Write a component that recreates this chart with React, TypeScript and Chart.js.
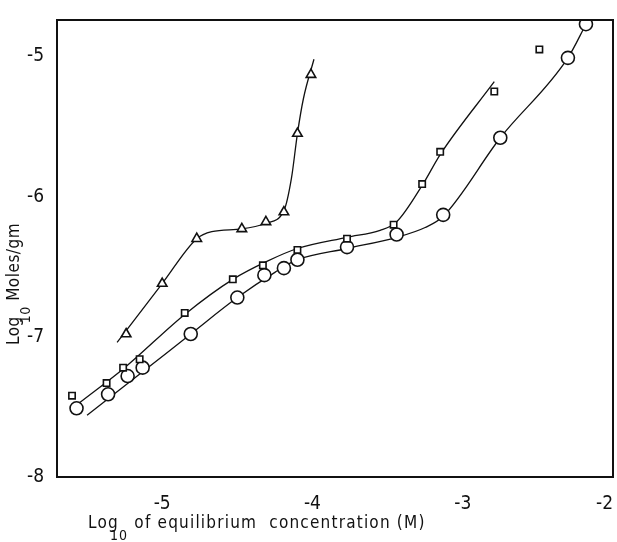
import React, { useEffect, useRef } from "react";
import { Chart, registerables } from "chart.js";

Chart.register(...registerables);

// ---- data ----
const triX = [-5.24, -5.0, -4.77, -4.47, -4.31, -4.19, -4.1, -4.01];
const triY = [-6.98, -6.62, -6.3, -6.23, -6.18, -6.11, -5.55, -5.13];

const sqX = [-5.6, -5.37, -5.26, -5.15, -4.85, -4.53, -4.33, -4.1, -3.77, -3.46, -3.27, -3.15, -2.79, -2.49];
const sqY = [-7.42, -7.33, -7.22, -7.16, -6.83, -6.59, -6.49, -6.38, -6.3, -6.2, -5.91, -5.68, -5.25, -4.95];

const cirX = [-5.57, -5.36, -5.23, -5.13, -4.81, -4.5, -4.32, -4.19, -4.1, -3.77, -3.44, -3.13, -2.75, -2.3, -2.18];
const cirY = [-7.51, -7.41, -7.28, -7.22, -6.98, -6.72, -6.56, -6.51, -6.45, -6.36, -6.27, -6.13, -5.58, -5.01, -4.77];

// fitted curves (hand-drawn in the reference)
const triCurveX = [-5.3, -5.0, -4.77, -4.67, -4.47, -4.31, -4.19, -4.14, -4.1, -4.06, -3.99];
const triCurveY = [-7.04, -6.62, -6.3, -6.25, -6.23, -6.19, -6.1, -5.87, -5.55, -5.3, -5.02];

const sqCurveX = [-5.55, -5.25, -4.85, -4.53, -4.3, -4.1, -3.77, -3.55, -3.44, -3.27, -3.15, -2.79];
const sqCurveY = [-7.47, -7.22, -6.84, -6.59, -6.46, -6.37, -6.29, -6.24, -6.18, -5.92, -5.7, -5.18];

const cirCurveX = [-5.5, -5.13, -4.81, -4.5, -4.25, -4.1, -3.77, -3.44, -3.25, -3.13, -2.75, -2.3, -2.18];
const cirCurveY = [-7.56, -7.25, -6.98, -6.72, -6.54, -6.45, -6.37, -6.29, -6.22, -6.14, -5.58, -5.01, -4.77];

const xTicks = [-5, -4, -3, -2];
const xTickLabels = ["-5", "-4", "-3", "-2"];
const yTicks = [-8, -7, -6, -5];
const yTickLabels = ["-8", "-7", "-6", "-5"];

const xTitleMain = "Log";
const xTitleSub = "10";
const xTitleRest = " of equilibrium  concentration (M)";
const yTitleMain = "Log";
const yTitleSub = "10";
const yTitleRest = " Moles/gm";

const FONT = '"DejaVu Sans Condensed", "DejaVu Sans", sans-serif';

const pts = (xs: number[], ys: number[]) => xs.map((x, i) => ({ x, y: ys[i] }));

const framePlugin = {
  id: "frameAndTitles",
  beforeDraw(chart: any) {
    // keep the last x tick label inside the canvas (right-aligned at the edge)
    const xs = chart.scales.x;
    if (xs && xs.getLabelItems) {
      const items = xs.getLabelItems();
      const last = items[items.length - 1];
      if (last && last.options) last.options.textAlign = "right";
    }
  },
  afterDraw(chart: any) {
    const { ctx, chartArea } = chart;
    ctx.save();
    ctx.strokeStyle = "#111";
    ctx.lineWidth = 2;
    ctx.strokeRect(chartArea.left, chartArea.top, chartArea.right - chartArea.left, chartArea.bottom - chartArea.top);

    ctx.fillStyle = "#111";
    ctx.textBaseline = "alphabetic";
    ctx.textAlign = "left";
    // x title
    (ctx as any).letterSpacing = "1.2px";
    let x = 88;
    const yb = 528;
    ctx.font = `17px ${FONT}`;
    ctx.fillText(xTitleMain, x, yb);
    x += ctx.measureText(xTitleMain).width - 9;
    ctx.font = `14px ${FONT}`;
    ctx.fillText(xTitleSub, x, yb + 12);
    x += ctx.measureText(xTitleSub).width;
    ctx.font = `17px ${FONT}`;
    ctx.fillText(xTitleRest, x, yb);

    // y title (rotated)
    (ctx as any).letterSpacing = "0.5px";
    ctx.translate(19, 345);
    ctx.rotate(-Math.PI / 2);
    let t = 0;
    ctx.font = `17px ${FONT}`;
    ctx.fillText(yTitleMain, t, 0);
    t += ctx.measureText(yTitleMain).width - 7;
    ctx.font = `14px ${FONT}`;
    ctx.fillText(yTitleSub, t, 11);
    t += ctx.measureText(yTitleSub).width;
    ctx.font = `17px ${FONT}`;
    ctx.fillText(yTitleRest, t, 0);
    ctx.restore();
  },
};

export default function App() {
  const ref = useRef<HTMLCanvasElement | null>(null);

  useEffect(() => {
    if (!ref.current) return;
    const line = (xs: number[], ys: number[]) => ({
      data: pts(xs, ys),
      showLine: true,
      borderColor: "#111",
      borderWidth: 1.3,
      pointRadius: 0,
      fill: false,
      cubicInterpolationMode: "monotone" as const,
      order: 2,
    });
    const marks = (xs: number[], ys: number[], style: string, r: number) => ({
      data: pts(xs, ys),
      showLine: false,
      pointStyle: style,
      pointRadius: r,
      pointBorderColor: "#111",
      pointBackgroundColor: "#fff",
      pointBorderWidth: 1.6,
      order: 1,
    });

    const chart = new Chart(ref.current, {
      type: "scatter",
      data: {
        datasets: [
          line(triCurveX, triCurveY),
          line(sqCurveX, sqCurveY),
          line(cirCurveX, cirCurveY),
          marks(triX, triY, "triangle", 5.5),
          marks(sqX, sqY, "rect", 4.5),
          marks(cirX, cirY, "circle", 6.5),
        ] as any,
      },
      plugins: [framePlugin],
      options: {
        animation: false,
        responsive: false,
        events: [],
        layout: { autoPadding: false, padding: { top: 20, right: 4, left: 0, bottom: 0 } },
        plugins: { legend: { display: false }, tooltip: { enabled: false } },
        scales: {
          x: {
            type: "linear",
            min: -5.7,
            max: -2,
            grid: { display: false },
            border: { display: false },
            afterBuildTicks: (s: any) => {
              s.ticks = xTicks.map((v) => ({ value: v }));
            },
            afterFit: (s: any) => {
              s.height = 65;
              s.paddingLeft = 0;
              s.paddingRight = 0;
            },
            ticks: {
              color: "#111",
              padding: 8,
              maxRotation: 0,
              font: { family: FONT, size: 19 },
              callback: (v: any) => xTickLabels[xTicks.indexOf(Number(v))] ?? "",
            },
          },
          y: {
            type: "linear",
            min: -8,
            max: -4.74,
            grid: { display: false },
            border: { display: false },
            afterBuildTicks: (s: any) => {
              s.ticks = yTicks.map((v) => ({ value: v }));
            },
            afterFit: (s: any) => {
              s.width = 57;
              s.paddingTop = 0;
              s.paddingBottom = 0;
            },
            ticks: {
              color: "#111",
              padding: 5,
              font: { family: FONT, size: 19 },
              callback: (v: any) => yTickLabels[yTicks.indexOf(Number(v))] ?? "",
            },
          },
        },
      },
    });
    return () => chart.destroy();
  }, []);

  return (
    <canvas
      ref={ref}
      width={617}
      height={542}
      style={{ position: "fixed", left: 0, top: 0, width: 617, height: 542, display: "block", background: "#fff" }}
    />
  );
}
